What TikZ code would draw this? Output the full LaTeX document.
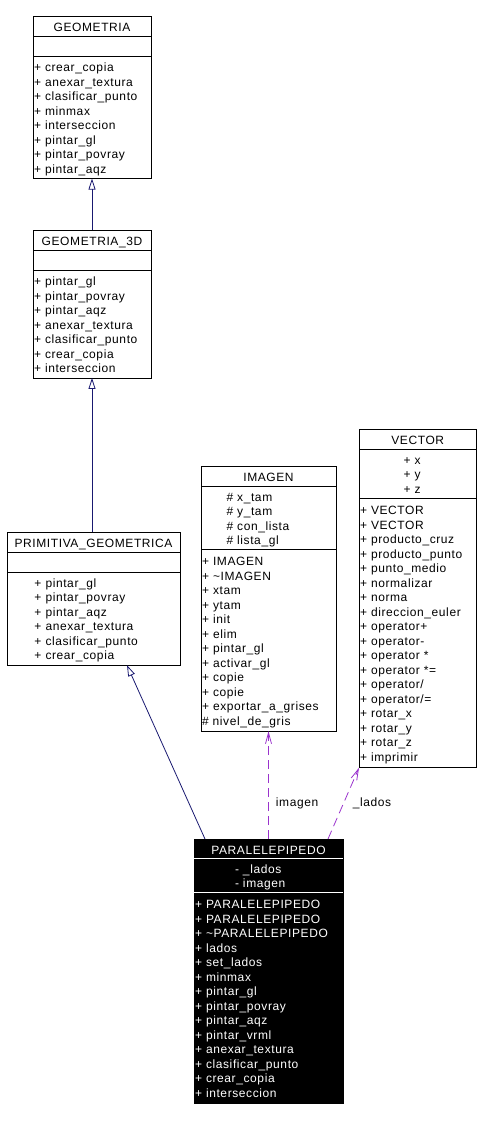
\documentclass[tikz,border=0pt]{standalone}
\usepackage{fontspec}
\newfontfamily\umlfont{Liberation Sans}[LetterSpace=5]
\usepackage{tikz}
\usetikzlibrary{arrows.meta,positioning,calc}

\definecolor{inhblue}{HTML}{191970}
\definecolor{useorchid}{HTML}{9A32CD}

\begin{document}
\begin{tikzpicture}[
  x=1pt, y=1pt,
  node distance=0pt,
  cls/.style={draw, line width=0.8pt, inner xsep=1pt, inner ysep=0pt, outer sep=0pt,
              font=\umlfont\fontsize{12}{14.5}\selectfont},
  head/.style={cls, minimum height=20pt, text height=11.4pt, text depth=0pt, align=center},
  sect/.style={cls, align=left},
  rows/.style={sect, text height=14.5pt,
               execute at end node={\rule[-4.4pt]{0pt}{0pt}}},
  indent/.style={execute at begin node={\leftskip=#1}},
  dark/.style={fill=black, text=white},
  divider/.style={white, line width=0.8pt},
  inh/.style={inhblue, line width=0.8pt, -{Triangle[open, length=11pt, width=7pt]}},
  dep/.style={useorchid, line width=0.8pt, dash pattern=on 9pt off 5pt,
              -{Straight Barb[length=11pt, width=6pt]}},
  lab/.style={font=\umlfont\fontsize{12}{14.5}\selectfont, text=black, inner sep=0pt},
]
\useasboundingbox (0,0) rectangle (481,-1121);

% base classes
\node[head, minimum width=118pt, anchor=north west] (geot) at (33,-16) {GEOMETRIA};
\node[sect, text width=116pt, minimum height=20pt, below=of geot] (geoa) {};
\node[rows, text width=116pt, minimum height=122.6pt, below=of geoa] (geom)
{+ crear\_copia\\+ anexar\_textura\\+ clasificar\_punto\\+ minmax\\
+ interseccion\\+ pintar\_gl\\+ pintar\_povray\\+ pintar\_aqz};

\node[head, minimum width=118pt, anchor=north west] (g3dt) at (33,-230) {GEOMETRIA\_3D};
\node[sect, text width=116pt, minimum height=20pt, below=of g3dt] (g3da) {};
\node[rows, text width=116pt, minimum height=107.9pt, below=of g3da] (g3dm)
{+ pintar\_gl\\+ pintar\_povray\\+ pintar\_aqz\\+ anexar\_textura\\
+ clasificar\_punto\\+ crear\_copia\\+ interseccion};

\node[head, minimum width=173pt, anchor=north west] (primt) at (7,-532) {PRIMITIVA\_GEOMETRICA};
\node[sect, text width=171pt, minimum height=20pt, below=of primt] (prima) {};
\node[rows, text width=171pt, minimum height=93.2pt, indent=26.5pt, below=of prima] (primm)
{+ pintar\_gl\\+ pintar\_povray\\+ pintar\_aqz\\+ anexar\_textura\\
+ clasificar\_punto\\+ crear\_copia};

% used classes
\node[head, minimum width=135pt, anchor=north west] (imgt) at (201,-466) {IMAGEN};
\node[rows, text width=133pt, minimum height=63.8pt, indent=24.5pt, below=of imgt] (imga)
{\# x\_tam\\\# y\_tam\\\# con\_lista\\\# lista\_gl};
\node[rows, text width=133pt, minimum height=181.4pt, below=of imga] (imgm)
{+ IMAGEN\\+ \textasciitilde IMAGEN\\+ xtam\\+ ytam\\+ init\\+ elim\\
+ pintar\_gl\\+ activar\_gl\\+ copie\\+ copie\\+ exportar\_a\_grises\\
\# nivel\_de\_gris};

\node[head, minimum width=117.5pt, anchor=north west] (vect) at (359,-429) {VECTOR};
\node[rows, text width=115.5pt, minimum height=49.1pt, indent=43.5pt, below=of vect] (veca)
{+ x\\+ y\\+ z};
\node[rows, text width=115.5pt, minimum height=269.6pt, below=of veca] (vecm)
{+ VECTOR\\+ VECTOR\\+ producto\_cruz\\+ producto\_punto\\+ punto\_medio\\
+ normalizar\\+ norma\\+ direccion\_euler\\+ operator+\\+ operator-\\
+ operator *\\+ operator *=\\+ operator/\\+ operator/=\\+ rotar\_x\\
+ rotar\_y\\+ rotar\_z\\+ imprimir};

% the documented class
\node[head, dark, minimum width=149pt, minimum height=19.3pt, anchor=north west] (part) at (194,-839) {PARALELEPIPEDO};
\node[rows, dark, text width=147pt, minimum height=34.4pt, indent=40pt, below=of part] (para)
{- \_lados\\- imagen};
\node[rows, dark, text width=147pt, minimum height=210.8pt, below=of para] (parm)
{+ PARALELEPIPEDO\\+ PARALELEPIPEDO\\+ \textasciitilde PARALELEPIPEDO\\+ lados\\
+ set\_lados\\+ minmax\\+ pintar\_gl\\+ pintar\_povray\\+ pintar\_aqz\\
+ pintar\_vrml\\+ anexar\_textura\\+ clasificar\_punto\\+ crear\_copia\\
+ interseccion};
\draw[divider] (part.south west) -- (part.south east);
\draw[divider] (para.south west) -- (para.south east);

% relations
\draw[inh] (g3dt.north) -- (geom.south);
\draw[inh] (g3dm.south |- primt.north) -- (g3dm.south);
\draw[inh] ($(part.north west)+(11,0)$) -- ($(primm.south west)+(120,0)$);
\draw[dep] (part.north) -- node[lab, pos=0.33, right=7pt] {imagen} (imgm.south);
\draw[dep] ($(part.north west)+(134,0)$) -- node[lab, pos=0.5, right=9pt] {\_lados} (vecm.south west);
\end{tikzpicture}
\end{document}
